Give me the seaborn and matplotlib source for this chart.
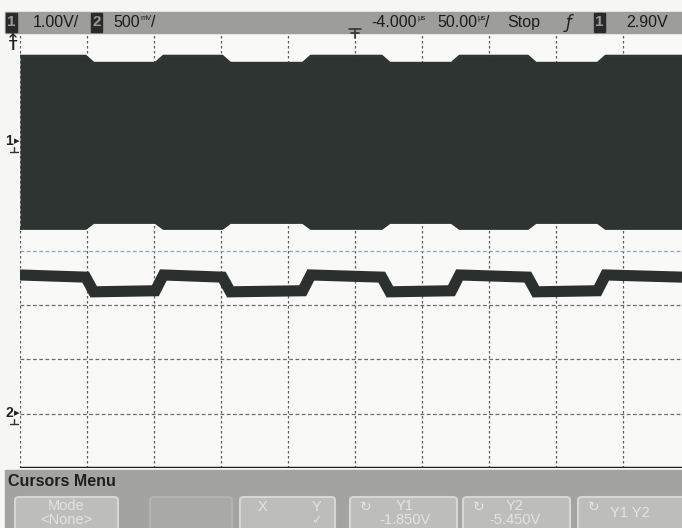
import numpy as np
import pandas as pd
import matplotlib
matplotlib.use("Agg")
import matplotlib.pyplot as plt
import seaborn as sns
from matplotlib.patches import Rectangle, FancyBboxPatch
from matplotlib.lines import Line2D

# ---- scope settings -------------------------------------------------------
ch1_scale = "1.00V/"
ch2_scale = "500"
delay_text = "-4.000"
timebase_text = "50.00"
trigger_level_text = "2.90V"
run_state = "Stop"

TIME_PER_DIV_US = 50.0
DELAY_US = -4.0
CH1_V_PER_DIV = 1.00
CH2_V_PER_DIV = 0.500
CH1_GROUND_DIV = 2.0
CH2_GROUND_DIV = -3.03

# ---- channel 2: square wave (edges in µs, levels in V) --------------------
ch2_fall_us = [-205, -103, 16, 125]
ch2_rise_us = [-153, -43, 68, 177]
edge_us = 6
ch2_high_v = [1.29, 1.27]     # level at start / end of a high state
ch2_low_v = [1.135, 1.145]    # level at start / end of a low state

# ---- channel 1: carrier envelope (V) --------------------------------------
ch1_env_high = [1.58, -1.60]  # top / bottom while channel 2 is high
ch1_env_low = [1.45, -1.49]   # top / bottom while channel 2 is low

# ---- cursor menu -----------------------------------------------------------
menu_title = "Cursors Menu"
cursor_y1 = "-1.850V"
cursor_y2 = "-5.450V"

W, H = 682, 528
sns.set_style("white")
plt.rcParams["font.family"] = ["Liberation Sans Narrow", "Liberation Sans", "DejaVu Sans"]

fig = plt.figure(figsize=(W / 100, H / 100), dpi=100)
fig.patch.set_facecolor("#f6f6f4")


def fx(x):
    return x / W


def fy(y):
    return 1 - y / H


def fig_line(xs, ys, color="#2a2a2a", lw=1.2):
    fig.lines.append(Line2D([fx(x) for x in xs], [fy(y) for y in ys],
                            transform=fig.transFigure, color=color, lw=lw))


# screen area
t_left = DELAY_US - 5 * TIME_PER_DIV_US
px_per_div = 67.0
plot_l, plot_r, plot_t, plot_b = 20, 682, 33, 468
t_right = t_left + (plot_r - plot_l) / px_per_div * TIME_PER_DIV_US
ax = fig.add_axes([fx(plot_l), fy(plot_b), (plot_r - plot_l) / W, (plot_b - plot_t) / H])
ax.set_facecolor("#f9f9f7")
ax.set_xlim(t_left, t_right)
ax.set_ylim(-4, 4)
for s in ax.spines.values():
    s.set_visible(False)
ax.set_xticks([])
ax.set_yticks([])

# graticule
for k in range(0, 11):
    ax.axvline(t_left + k * TIME_PER_DIV_US, color="#5a5a5a", lw=0.9,
               ls=(0, (2, 2)), zorder=1)
for d in range(-3, 4):
    col = "#8aa6bd" if d == 0 else "#6a6a6a"
    ax.axhline(d, color=col, lw=0.9, ls=(0, (3, 2)), zorder=1)
ax.axhline(-4, color="#202020", lw=2.5, zorder=1)

# build the state sequence
events = sorted([(t, "fall") for t in ch2_fall_us] + [(t, "rise") for t in ch2_rise_us])


def trace(levels_high, levels_low):
    pts_t, pts_v = [], []
    state = "high"
    seg = t_left
    for t, kind in events:
        lv = levels_high if state == "high" else levels_low
        pts_t += [seg, t]
        pts_v += [lv[0], lv[1]]
        state = "low" if kind == "fall" else "high"
        seg = t + edge_us
    lv = levels_high if state == "high" else levels_low
    pts_t += [seg, t_right]
    pts_v += [lv[0], lv[1]]
    return np.array(pts_t, float), np.array(pts_v, float)


# channel 1 envelope
t1, top_v = trace([ch1_env_high[0]] * 2, [ch1_env_low[0]] * 2)
_, bot_v = trace([ch1_env_high[1]] * 2, [ch1_env_low[1]] * 2)
top_div = CH1_GROUND_DIV + top_v / CH1_V_PER_DIV
bot_div = CH1_GROUND_DIV + bot_v / CH1_V_PER_DIV
band_col = "#2e3432"
ax.fill_between(t1, bot_div, top_div, color=band_col, lw=0, zorder=3)
env = pd.DataFrame({"t": np.concatenate([t1, t1]),
                    "div": np.concatenate([top_div, bot_div]),
                    "edge": ["top"] * len(t1) + ["bottom"] * len(t1)})
sns.lineplot(data=env, x="t", y="div", units="edge", estimator=None, sort=False,
             color=band_col, lw=1.6, ax=ax, zorder=4, legend=False)

# channel 2 trace
t2, v2 = trace(ch2_high_v, ch2_low_v)
ch2 = pd.DataFrame({"t": t2, "div": CH2_GROUND_DIV + v2 / CH2_V_PER_DIV})
sns.lineplot(data=ch2, x="t", y="div", estimator=None, sort=False,
             color="#2b302e", lw=8, ax=ax, zorder=4, legend=False,
             solid_capstyle="butt", solid_joinstyle="miter")
ax.set_xlabel("")
ax.set_ylabel("")

# ---- status bar ----------------------------------------------------------
fig.patches.append(Rectangle((fx(5), fy(33)), fx(682 - 5), 21 / H,
                             transform=fig.transFigure, color="#9d9e9c", zorder=0))
txt = dict(color="#1c1c1c", fontsize=11.5, va="center", transform=fig.transFigure)
unit = dict(color="#1c1c1c", fontsize=5.5, va="center", ha="left",
            transform=fig.transFigure)
yb = fy(22.5)
yu = fy(18)


def chan_box(x, label):
    fig.patches.append(Rectangle((fx(x), fy(32)), 11 / W, 19 / H,
                                 transform=fig.transFigure, color="#2a2a2a", zorder=1))
    fig.text(fx(x + 5.5), yb, label, ha="center", color="#9a9a9a",
             fontsize=11, va="center", fontweight="bold", zorder=2)


chan_box(6, "1")
fig.text(fx(33), yb, ch1_scale, ha="left", **txt)
chan_box(91, "2")
fig.text(fx(140), yb, ch2_scale, ha="right", **txt)
fig.text(fx(140.5), yu, "mV", **unit)
fig.text(fx(151), yb, "/", ha="left", **txt)
fig.text(fx(417), yb, delay_text, ha="right", **txt)
fig.text(fx(417.5), yu, "µs", **unit)
fig.text(fx(477), yb, timebase_text, ha="right", **txt)
fig.text(fx(477.5), yu, "µs", **unit)
fig.text(fx(485), yb, "/", ha="left", **txt)
fig.text(fx(507), yb, run_state, ha="left", **txt)
fig.text(fx(569), yb, "ƒ", ha="center", color="#1c1c1c", fontsize=12,
         va="center", fontstyle="italic", family="DejaVu Sans")
chan_box(594, "1")
fig.text(fx(626), yb, trigger_level_text, ha="left", **txt)

# time reference marker
fig_line([349, 361], [29, 29], color="#333333")
fig_line([355, 355], [29, 38], color="#333333")
fig_line([351, 359], [33, 33], color="#333333")

# trigger level marker (off screen, above)
fig.text(fx(13), fy(46), "T", ha="center", va="center", color="#222222",
         fontsize=10, fontweight="bold")
fig_line([13, 13], [34, 40], color="#222222")
fig_line([10, 13, 16], [37, 34, 37], color="#222222", lw=1.0)


def ground_marker(y, label):
    fig.text(fx(9), fy(y - 2), label, ha="center", va="center", color="#222222",
             fontsize=10, fontweight="bold")
    fig.text(fx(17), fy(y - 2), "▸", ha="center", va="center", color="#222222",
             fontsize=8, family="DejaVu Sans")
    fig_line([14, 14], [y + 4, y + 9], color="#333333", lw=1.0)
    fig_line([10, 18], [y + 9, y + 9], color="#333333", lw=1.0)


ground_marker(143, "1")
ground_marker(415, "2")

# ---- softkey menu ----------------------------------------------------------
fig.patches.append(Rectangle((fx(5), 0), fx(682 - 5), (H - 470) / H,
                             transform=fig.transFigure, color="#a3a4a2", zorder=0))
fig.text(fx(8), fy(481), menu_title, ha="left", va="center", color="#1f1f1f",
         fontsize=11.5, fontweight="bold")


def key(x0, x1, face="#bdbebc", edge="#d6d6d4"):
    fig.patches.append(FancyBboxPatch((fx(x0), fy(530)), (x1 - x0) / W, 33 / H,
                                      boxstyle="round,pad=0,rounding_size=0.006",
                                      transform=fig.transFigure, fc=face, ec=edge,
                                      lw=1.5, zorder=1))


ktxt = dict(ha="center", va="center", color="#e4e4e2", fontsize=10.5, zorder=3)
key(15, 118)
fig.text(fx(66), fy(506), "Mode", **ktxt)
fig.text(fx(66), fy(520), "<None>", **ktxt)
key(150, 232, face="#a9aaa8", edge="#b3b4b2")
key(240, 335)
fig.text(fx(263), fy(507), "X", **ktxt)
fig.text(fx(316), fy(507), "Y", **ktxt)
fig.text(fx(316), fy(521), "✓", ha="center", va="center", color="#e4e4e2",
         fontsize=9, family="DejaVu Sans", zorder=3)
key(350, 457)
fig.text(fx(366), fy(507), "↻", ha="center", va="center", color="#e4e4e2",
         fontsize=10, family="DejaVu Sans", zorder=3)
fig.text(fx(405), fy(506), "Y1", **ktxt)
fig.text(fx(405), fy(520), cursor_y1, **ktxt)
key(463, 570)
fig.text(fx(479), fy(507), "↻", ha="center", va="center", color="#e4e4e2",
         fontsize=10, family="DejaVu Sans", zorder=3)
fig.text(fx(515), fy(506), "Y2", **ktxt)
fig.text(fx(515), fy(520), cursor_y2, **ktxt)
key(578, 690)
fig.text(fx(594), fy(507), "↻", ha="center", va="center", color="#e4e4e2",
         fontsize=10, family="DejaVu Sans", zorder=3)
fig.text(fx(630), fy(513), "Y1 Y2", **ktxt)

fig.savefig("out.png", dpi=100, facecolor=fig.get_facecolor())
